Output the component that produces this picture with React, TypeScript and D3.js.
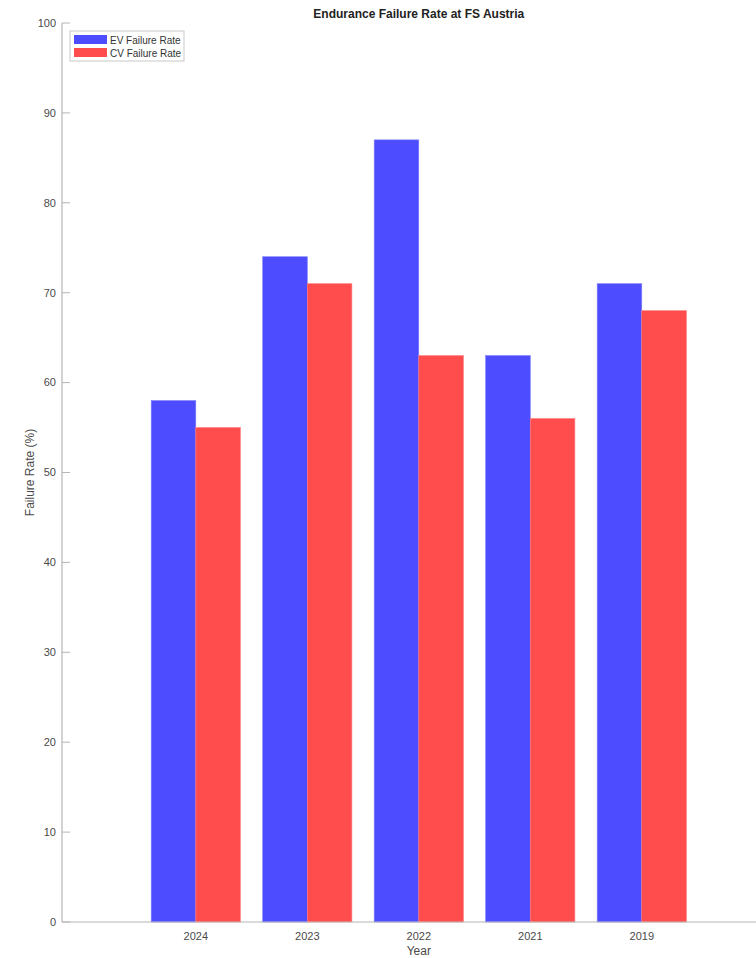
import React, { useEffect, useRef } from 'react'
import * as d3 from 'd3'

const years = ['2024', '2023', '2022', '2021', '2019']
const evRates = [58, 74, 87, 63, 71]
const cvRates = [55, 71, 63, 56, 68]
const yTicks = [0, 10, 20, 30, 40, 50, 60, 70, 80, 90, 100]
const seriesNames = ['EV Failure Rate', 'CV Failure Rate']
const seriesColors = ['#4d4dff', '#ff4d4d']

const W = 756
const H = 958
const margin = { top: 23, left: 62, bottom: 36 }

export default function App () {
  const ref = useRef<SVGSVGElement>(null)

  useEffect(() => {
    const svg = d3.select(ref.current)
    svg.selectAll('*').remove()
    const font = 'Liberation Sans, Arial, sans-serif'

    const plotBottom = H - margin.bottom
    // categories sit at positions 1..n, axis starts at 0.8 like the original
    const x = d3.scaleLinear().domain([-0.2, 6.02]).range([margin.left, margin.left + 693.5 * 1.0])
    const step = x(1) - x(0)
    const y = d3.scaleLinear().domain([0, 100]).range([plotBottom, margin.top])
    const barW = step * 0.4

    const g = svg.append('g')

    years.forEach((yr, i) => {
      const cx = x(i + 1)
      const vals = [evRates[i], cvRates[i]]
      vals.forEach((v, s) => {
        g.append('rect')
          .attr('x', cx - barW + s * barW)
          .attr('y', y(v))
          .attr('width', barW)
          .attr('height', y(0) - y(v))
          .attr('fill', seriesColors[s])
          .attr('stroke', s === 0 ? '#7a7aff' : '#ff7a7a')
          .attr('stroke-width', 0.6)
      })
    })

    // y axis
    const yAxis = g.append('g').attr('transform', `translate(${margin.left},0)`)
    yAxis.append('line')
      .attr('x1', 0).attr('x2', 0)
      .attr('y1', y(100)).attr('y2', y(0))
      .attr('stroke', '#b5b5b5').attr('stroke-width', 1.2)
    yTicks.forEach(t => {
      yAxis.append('line')
        .attr('x1', 0).attr('x2', 8)
        .attr('y1', y(t)).attr('y2', y(t))
        .attr('stroke', '#b5b5b5').attr('stroke-width', 1)
      yAxis.append('text')
        .attr('x', -6).attr('y', y(t))
        .attr('dy', '0.35em')
        .attr('text-anchor', 'end')
        .attr('font-family', font).attr('font-size', 11)
        .attr('fill', '#4a4a4a')
        .text(t)
    })

    // x axis
    g.append('line')
      .attr('x1', margin.left).attr('x2', W)
      .attr('y1', y(0)).attr('y2', y(0))
      .attr('stroke', '#b5b5b5').attr('stroke-width', 1.2)
    years.forEach((yr, i) => {
      g.append('text')
        .attr('x', x(i + 1)).attr('y', plotBottom + 18)
        .attr('text-anchor', 'middle')
        .attr('font-family', font).attr('font-size', 11)
        .attr('fill', '#4a4a4a')
        .text(yr)
    })

    g.append('text')
      .attr('x', x(3)).attr('y', H - 3)
      .attr('text-anchor', 'middle')
      .attr('font-family', font).attr('font-size', 12)
      .attr('fill', '#4a4a4a')
      .text('Year')

    g.append('text')
      .attr('transform', `translate(34,${(y(0) + y(100)) / 2}) rotate(-90)`)
      .attr('text-anchor', 'middle')
      .attr('font-family', font).attr('font-size', 12)
      .attr('fill', '#4a4a4a')
      .text('Failure Rate (%)')

    g.append('text')
      .attr('x', x(3)).attr('y', 18)
      .attr('text-anchor', 'middle')
      .attr('font-family', font).attr('font-size', 12)
      .attr('font-weight', 'bold')
      .attr('fill', '#222')
      .text('Endurance Failure Rate at FS Austria')

    // legend
    const lg = g.append('g').attr('transform', 'translate(70,31)')
    lg.append('rect')
      .attr('width', 114).attr('height', 30)
      .attr('fill', '#fff').attr('stroke', '#c8c8c8').attr('stroke-width', 1)
    seriesNames.forEach((name, s) => {
      lg.append('rect')
        .attr('x', 4).attr('y', 4 + s * 13)
        .attr('width', 33).attr('height', 9)
        .attr('fill', seriesColors[s])
      lg.append('text')
        .attr('x', 40).attr('y', 9 + s * 13)
        .attr('dy', '0.35em')
        .attr('font-family', font).attr('font-size', 10)
        .attr('fill', '#333')
        .text(name)
    })
  }, [])

  return (
    <svg ref={ref} width={W} height={H}
      style={{ position: 'absolute', left: 0, top: 0, background: '#fff' }} />
  )
}
